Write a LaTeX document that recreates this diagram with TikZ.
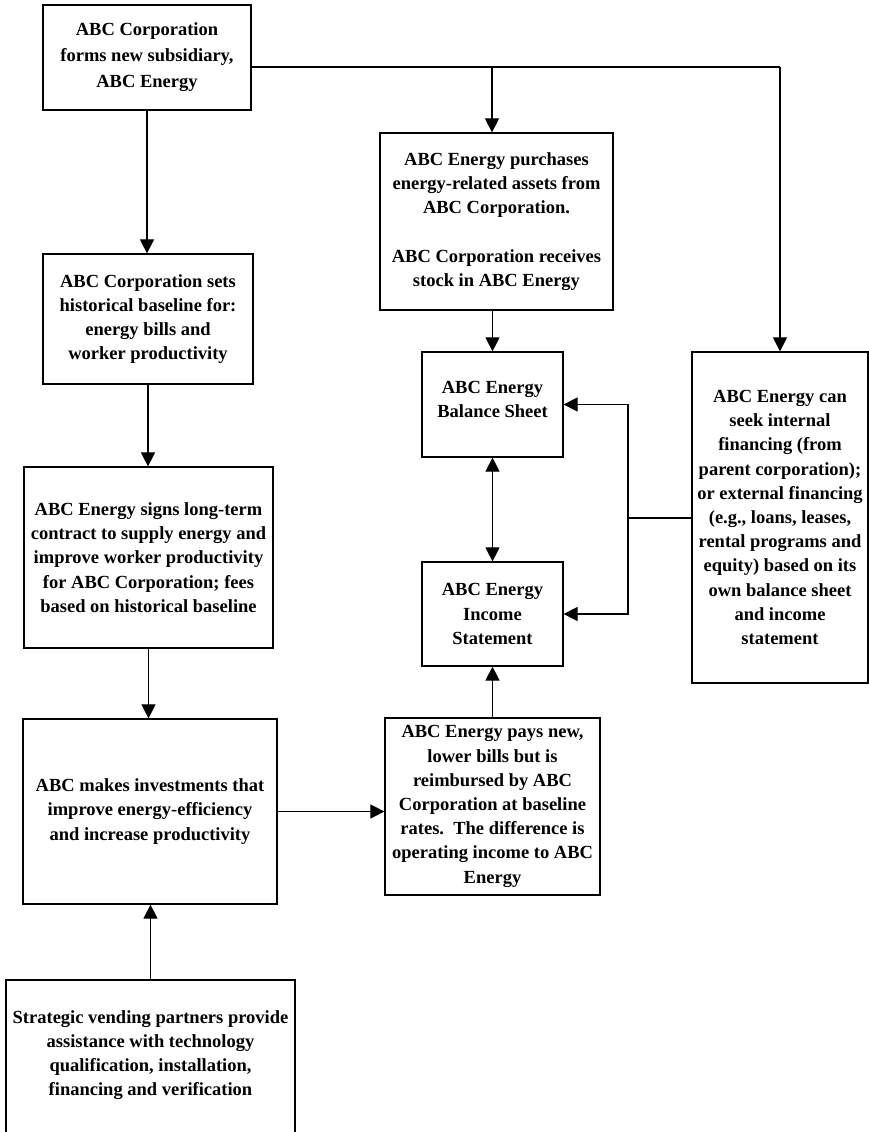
\documentclass[tikz,border=0pt]{standalone}
\usepackage{fontspec}
\setmainfont{Liberation Serif}
\usetikzlibrary{arrows.meta}
\begin{document}
\begin{tikzpicture}[x=1pt,y=-1pt,
  box/.style={draw, line width=1.2pt, inner sep=0pt, align=center,
    font=\bfseries\fontsize{18.5}{24.2}\selectfont},
  link/.style={line width=1.1pt},
  arr/.style={link, -{Triangle[length=14pt,width=14pt]}},
  darr/.style={link, {Triangle[length=14pt,width=14pt]}-{Triangle[length=14pt,width=14pt]}}]
\useasboundingbox (0,0) rectangle (869,1132);
\begin{scope}
\clip (0,0) rectangle (869,1132);
\node[box, minimum width=208, minimum height=105, font=\bfseries\fontsize{18.5}{26}\selectfont] (corp) at (147,57.5)
  {ABC Corporation\\forms new subsidiary,\\ABC Energy};
\node[box, minimum width=210, minimum height=130] (sets) at (148,319)
  {ABC Corporation sets\\historical baseline for:\\energy bills and\\worker productivity};
\node[box, minimum width=249, minimum height=181] (signs) at (148.5,557.5)
  {ABC Energy signs long-term\\contract to supply energy and\\improve worker productivity\\for ABC Corporation; fees\\based on historical baseline};
\node[box, minimum width=254, minimum height=185] (invest) at (150,811.5)
  {ABC makes investments that\\improve energy-efficiency\\and increase productivity};
\node[box, minimum width=289, minimum height=160, text depth=14pt] (strat) at (150.5,1060)
  {Strategic vending partners provide\\assistance with technology\\qualification, installation,\\financing and verification};
\node[box, minimum width=233, minimum height=177] (purch) at (496.5,221.5)
  {ABC Energy purchases\\energy-related assets from\\ABC Corporation.\\[24.2pt]ABC Corporation receives\\stock in ABC Energy};
\node[box, minimum width=141, minimum height=105, text depth=10pt] (bal) at (492.5,404.5)
  {ABC Energy\\Balance Sheet};
\node[box, minimum width=141, minimum height=104] (inc) at (492.5,614)
  {ABC Energy\\Income\\Statement};
\node[box, minimum width=215, minimum height=177] (pay) at (492.5,806.5)
  {ABC Energy pays new,\\lower bills but is\\reimbursed by ABC\\Corporation at baseline\\rates.\ \ The difference is\\operating income to ABC\\Energy};
\node[box, minimum width=176, minimum height=331] (fin) at (780,517.5)
  {ABC Energy can\\seek internal\\financing (from\\parent corporation);\\or external financing\\(e.g., loans, leases,\\rental programs and\\equity) based on its\\own balance sheet\\and income\\statement};
\end{scope}
\coordinate (jt) at (492,67);
\coordinate (jr) at (780,67);
\coordinate (jm) at (628,518);
\draw[link] (corp.east |- jt) -- (jr);
\draw[arr] (jt) -- (jt |- purch.north);
\draw[arr] (jr) -- (fin.north);
\draw[arr] (corp.south) -- (corp.south |- sets.north);
\draw[arr] (sets.south) -- (sets.south |- signs.north);
\draw[arr] (signs.south) -- (signs.south |- invest.north);
\draw[arr] (strat.north) -- (strat.north |- invest.south);
\draw[arr] (invest.east) -- (invest.east -| pay.west);
\draw[arr] (purch.south -| bal.north) -- (bal.north);
\draw[darr] (bal.south) -- (inc.north);
\draw[arr] (pay.north) -- (inc.south);
\draw[link] (fin.west |- jm) -- (jm);
\draw[arr] (jm) |- (bal.east);
\draw[arr] (jm) |- (inc.east);
\end{tikzpicture}
\end{document}
